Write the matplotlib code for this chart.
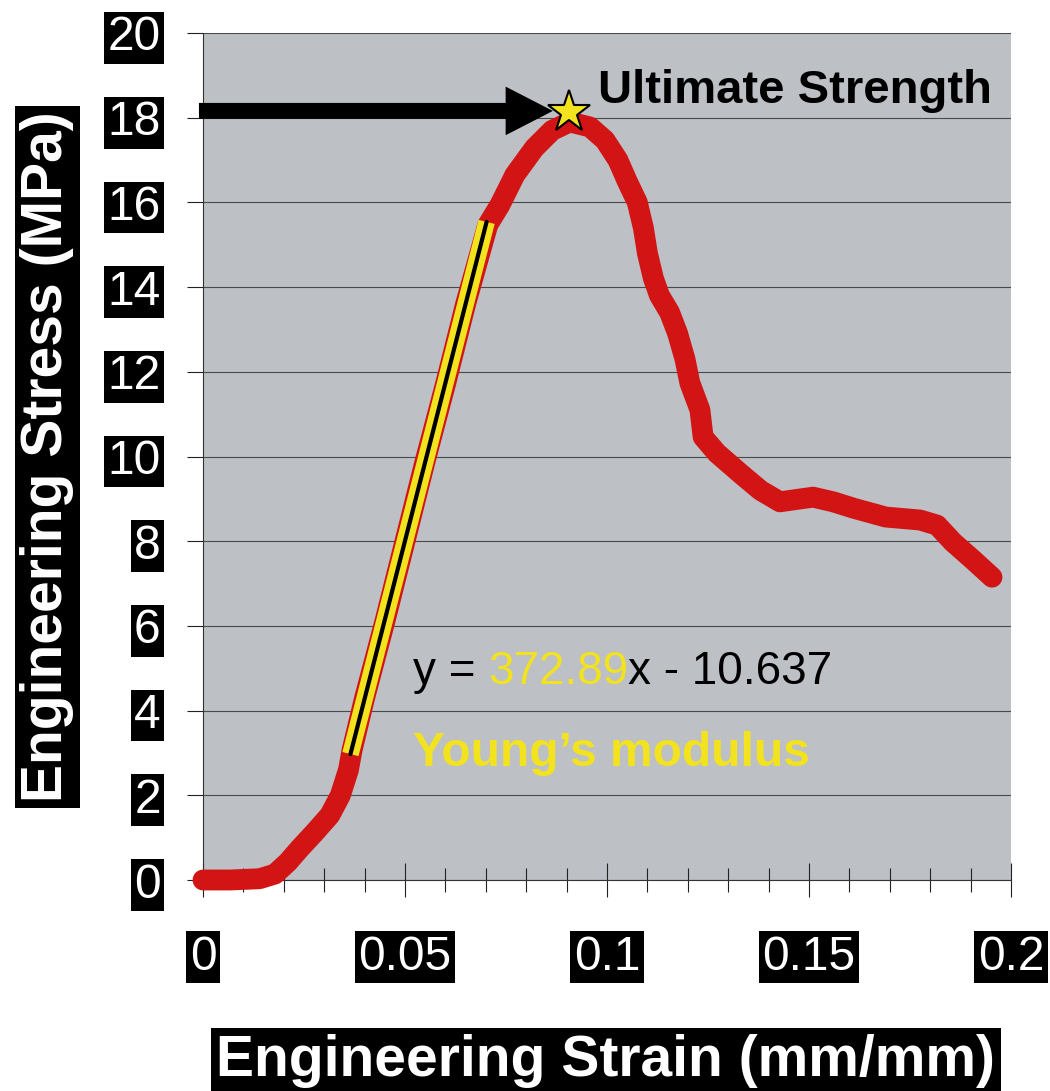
"""
Stress-strain curve with Young's modulus fit and ultimate strength marker.
Saves out.png (1050 x 1091 px).
"""

import matplotlib

matplotlib.use("Agg")
import matplotlib.pyplot as plt
import numpy as np

plt.rcParams["font.family"] = ["Liberation Sans", "DejaVu Sans"]

strain = [0.0, 0.0067, 0.014, 0.0178, 0.021, 0.024, 0.0277, 0.0314, 0.034, 0.036,
          0.0369, 0.040, 0.045, 0.050, 0.055, 0.060, 0.065, 0.0705, 0.0735,
          0.0772, 0.082, 0.0864, 0.0908, 0.0958, 0.0995, 0.1027, 0.105, 0.1075,
          0.109, 0.110, 0.1115, 0.113, 0.1155, 0.1175, 0.1193, 0.1205, 0.123,
          0.1238, 0.1272, 0.133, 0.138, 0.1428, 0.151, 0.156, 0.161, 0.169,
          0.1775, 0.1817, 0.1856, 0.1906, 0.1953]
stress = [0.0, 0.0, 0.03, 0.14, 0.42, 0.75, 1.13, 1.53, 2.0, 2.6,
          3.07, 4.3, 6.1, 8.0, 9.9, 11.7, 13.6, 15.47, 15.94,
          16.65, 17.28, 17.7, 17.9, 17.78, 17.47, 17.0, 16.5, 16.0,
          15.4, 14.8, 14.2, 13.8, 13.4, 12.9, 12.3, 11.74, 11.1,
          10.46, 10.08, 9.6, 9.2, 8.93, 9.04, 8.93, 8.78, 8.57,
          8.5, 8.38, 7.98, 7.56, 7.15]

# linear trendline of the elastic region
fit_slope = 372.89
fit_intercept = -10.637
fit_strain = [0.0365, 0.0702]

# ultimate strength point
uts_strain = 0.0906
uts_stress = 18.13

x_ticks = [0, 0.05, 0.1, 0.15, 0.2]
x_tick_labels = ["0", "0.05", "0.1", "0.15", "0.2"]
y_ticks = [0, 2, 4, 6, 8, 10, 12, 14, 16, 18, 20]

RED = "#d21414"
YELLOW = "#f2e31e"
BG = "#bdc0c5"

W, H = 1050, 1091
fig = plt.figure(figsize=(W / 100, H / 100), dpi=100)
ax = fig.add_axes([203 / W, 211 / H, 808 / W, 847 / H])
ax.set_facecolor(BG)
ax.set_xlim(0, 0.2)
ax.set_ylim(0, 20)

for side in ("top", "right"):
    ax.spines[side].set_visible(False)
for side in ("left", "bottom"):
    ax.spines[side].set_color("#333333")
    ax.spines[side].set_linewidth(0.8)

ax.set_axisbelow(True)
ax.grid(axis="y", color="#4a4a4a", linewidth=0.8)

ax.set_xticks(x_ticks)
ax.set_xticklabels(x_tick_labels)
ax.set_xticks(np.arange(0, 0.2001, 0.01), minor=True)
ax.set_yticks(y_ticks)
ax.set_yticklabels([str(v) for v in y_ticks])

ax.tick_params(axis="x", which="major", direction="inout", length=24.5, width=0.8,
               color="#222222", pad=27, labelsize=34.5, labelcolor="white")
ax.tick_params(axis="x", which="minor", direction="inout", length=17, width=0.8,
               color="#222222")
ax.tick_params(axis="y", direction="out", length=11.5, width=0.8, color="#222222",
               pad=19, labelsize=34.5, labelcolor="white")
for lbl in ax.get_xticklabels() + ax.get_yticklabels():
    lbl.set_bbox(dict(boxstyle="square,pad=0.07", fc="black", ec="none"))

# data curve
ax.plot(strain, stress, color=RED, lw=15, solid_joinstyle="round",
        solid_capstyle="round", clip_on=False, zorder=3)

# trendline: yellow highlight with black line on top
fit_x = np.array(fit_strain)
fit_y = fit_slope * fit_x + fit_intercept
ax.plot(fit_x, fit_y, color=YELLOW, lw=12, solid_capstyle="butt", zorder=4)
ax.plot(fit_x, fit_y, color="black", lw=3, solid_capstyle="round", zorder=5)

# arrow to the peak + star
ax.annotate("", xy=(0.0866, 18.16), xytext=(-0.001, 18.16),
            arrowprops=dict(facecolor="black", edgecolor="black", lw=0,
                            width=11.5, headwidth=35, headlength=34, shrink=0),
            annotation_clip=False, zorder=6)
ax.plot(uts_strain, uts_stress, marker="*", ms=32, mfc=YELLOW, mec="black",
        mew=1.5, clip_on=False, zorder=7)
ax.text(0.0978, 18.35, "Ultimate Strength", fontsize=34, fontweight="bold",
        color="black", va="baseline", ha="left", zorder=7)

# trendline equation, slope highlighted
t1 = ax.text(0.052, 4.63, "y =", fontsize=33, color="black", va="baseline")
t2 = ax.annotate(f"{fit_slope:.2f}", xy=(1, 0), xycoords=t1, xytext=(9.2, 0),
                 textcoords="offset points", fontsize=33, color=YELLOW,
                 va="bottom", ha="left")
ax.annotate(f"x - {abs(fit_intercept):.3f}", xy=(1, 0), xycoords=t2,
            fontsize=33, color="black", va="bottom", ha="left")
ax.text(0.052, 2.69, "Young\u2019s modulus", fontsize=34.5, fontweight="bold",
        color=YELLOW, va="baseline", ha="left")

# axis titles: white on black boxes
box = dict(boxstyle="square,pad=0.1", fc="black", ec="none")
fig.text(47.5 / W, 1 - 457 / H, "Engineering Stress (MPa)", rotation=90,
         fontsize=41, fontweight="bold", color="white", ha="center",
         va="center", bbox=box)
fig.text(606 / W, 1 - 1076 / H, "Engineering Strain (mm/mm)", fontsize=41,
         fontweight="bold", color="white", ha="center", va="baseline", bbox=box)

fig.savefig("out.png", dpi=100)
plt.close(fig)
